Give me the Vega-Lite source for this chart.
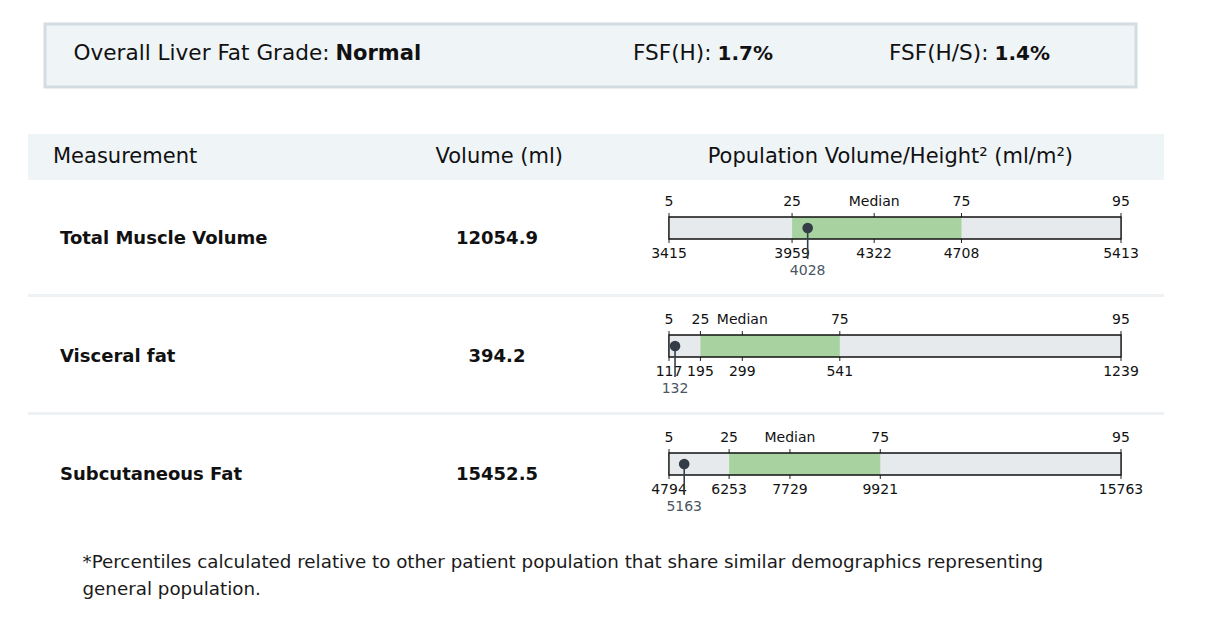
{
  "$schema": "https://vega.github.io/schema/vega-lite/v6.json",
  "background": "white",
  "padding": {"left": 26, "top": 22, "right": 0, "bottom": 0},
  "config": {"view": {"stroke": null}, "font": "DejaVu Sans"},
  "datasets": {
    "banner": [
      {"item": "grade", "label": "Overall Liver Fat Grade:", "value": "Normal"},
      {"item": "fsfh", "label": "FSF(H):", "value": "1.7%"},
      {"item": "fsfhs", "label": "FSF(H/S):", "value": "1.4%"}
    ],
    "header": [
      {"col": "Measurement"},
      {"col": "Volume (ml)"},
      {"col": "Population Volume/Height² (ml/m²)"}
    ],
    "body": [
      {"kind": "bar", "name": "Total Muscle Volume", "volume": 12054.9, "p5": 3415, "p25": 3959, "p50": 4322, "p75": 4708, "p95": 5413, "value": 4028},
      {"kind": "pct", "name": "Total Muscle Volume", "pct": "5", "val": 3415},
      {"kind": "pct", "name": "Total Muscle Volume", "pct": "25", "val": 3959},
      {"kind": "pct", "name": "Total Muscle Volume", "pct": "Median", "val": 4322},
      {"kind": "pct", "name": "Total Muscle Volume", "pct": "75", "val": 4708},
      {"kind": "pct", "name": "Total Muscle Volume", "pct": "95", "val": 5413},
      {"kind": "bar", "name": "Visceral fat", "volume": 394.2, "p5": 117, "p25": 195, "p50": 299, "p75": 541, "p95": 1239, "value": 132},
      {"kind": "pct", "name": "Visceral fat", "pct": "5", "val": 117},
      {"kind": "pct", "name": "Visceral fat", "pct": "25", "val": 195},
      {"kind": "pct", "name": "Visceral fat", "pct": "Median", "val": 299},
      {"kind": "pct", "name": "Visceral fat", "pct": "75", "val": 541},
      {"kind": "pct", "name": "Visceral fat", "pct": "95", "val": 1239},
      {"kind": "bar", "name": "Subcutaneous Fat", "volume": 15452.5, "p5": 4794, "p25": 6253, "p50": 7729, "p75": 9921, "p95": 15763, "value": 5163},
      {"kind": "pct", "name": "Subcutaneous Fat", "pct": "5", "val": 4794},
      {"kind": "pct", "name": "Subcutaneous Fat", "pct": "25", "val": 6253},
      {"kind": "pct", "name": "Subcutaneous Fat", "pct": "Median", "val": 7729},
      {"kind": "pct", "name": "Subcutaneous Fat", "pct": "75", "val": 9921},
      {"kind": "pct", "name": "Subcutaneous Fat", "pct": "95", "val": 15763}
    ]
  },
  "title": {
    "text": ["*Percentiles calculated relative to other patient population that share similar demographics representing", "general population."],
    "orient": "bottom",
    "anchor": "start",
    "dx": 56,
    "offset": 21,
    "baseline": "top",
    "fontSize": 18.3,
    "fontWeight": "normal",
    "lineHeight": 27,
    "color": "#1a1a1a",
    "font": "DejaVu Sans"
  },
  "spacing": 0,
  "vconcat": [
    {
      "spacing": 0,
      "hconcat": [
        {
          "width": 15,
          "height": 109.5,
          "data": {"values": [{}]},
          "mark": {"type": "text", "text": ""}
        },
        {
          "width": 1091,
          "height": 63,
          "view": {"fill": "#eff4f7", "stroke": "#d3dce0", "strokeWidth": 3},
          "data": {"name": "banner"},
          "resolve": {"scale": {"x": "independent"}},
          "layer": [
            {
              "transform": [{"filter": "datum.item === 'grade'"}],
              "encoding": {
                "x": {"field": "item", "type": "nominal", "axis": null, "scale": {"type": "point", "range": [287.5, 287.5], "padding": 0}}
              },
              "layer": [
                {"mark": {"type": "text", "align": "right", "baseline": "middle", "dx": -3, "dy": -2, "fontSize": 21.6, "color": "#111111"}, "encoding": {"text": {"field": "label"}}},
                {"mark": {"type": "text", "align": "left", "baseline": "middle", "dx": 3, "dy": -2, "fontSize": 21, "fontWeight": "bold", "color": "#111111"}, "encoding": {"text": {"field": "value"}}}
              ]
            },
            {
              "transform": [{"filter": "datum.item === 'fsfh'"}],
              "encoding": {
                "x": {"field": "item", "type": "nominal", "axis": null, "scale": {"type": "point", "range": [669.5, 669.5], "padding": 0}}
              },
              "layer": [
                {"mark": {"type": "text", "align": "right", "baseline": "middle", "dx": -3, "dy": -2, "fontSize": 21.6, "color": "#111111"}, "encoding": {"text": {"field": "label"}}},
                {"mark": {"type": "text", "align": "left", "baseline": "middle", "dx": 3, "dy": -2, "fontSize": 20, "fontWeight": "bold", "color": "#111111"}, "encoding": {"text": {"field": "value"}}}
              ]
            },
            {
              "transform": [{"filter": "datum.item === 'fsfhs'"}],
              "encoding": {
                "x": {"field": "item", "type": "nominal", "axis": null, "scale": {"type": "point", "range": [946.5, 946.5], "padding": 0}}
              },
              "layer": [
                {"mark": {"type": "text", "align": "right", "baseline": "middle", "dx": -3, "dy": -2, "fontSize": 21.6, "color": "#111111"}, "encoding": {"text": {"field": "label"}}},
                {"mark": {"type": "text", "align": "left", "baseline": "middle", "dx": 3, "dy": -2, "fontSize": 20, "fontWeight": "bold", "color": "#111111"}, "encoding": {"text": {"field": "value"}}}
              ]
            }
          ]
        }
      ]
    },
    {
      "width": 1136,
      "height": 46,
      "view": {"fill": "#eff4f7"},
      "data": {"name": "header"},
      "encoding": {
        "x": {"field": "col", "type": "nominal", "axis": null, "scale": {"type": "point", "domain": ["Measurement", "Volume (ml)", "Population Volume/Height² (ml/m²)"], "range": [25, 1045], "padding": 0}},
        "text": {"field": "col"}
      },
      "layer": [
        {
          "transform": [{"filter": "datum.col === 'Measurement'"}],
          "mark": {"type": "text", "align": "left", "baseline": "middle", "fontSize": 21, "color": "#111111"}
        },
        {
          "transform": [{"filter": "datum.col !== 'Measurement'"}],
          "mark": {"type": "text", "align": "right", "baseline": "middle", "fontSize": 21, "color": "#111111"}
        }
      ]
    },
    {
      "data": {"name": "body"},
      "facet": {
        "row": {"field": "name", "type": "nominal", "sort": ["Total Muscle Volume", "Visceral fat", "Subcutaneous Fat"], "header": {"labels": false, "title": null}, "title": null}
      },
      "spacing": {"row": 0},
      "resolve": {"scale": {"x": "independent", "y": "independent"}},
      "spec": {
        "width": 1136,
        "height": 117,
        "resolve": {"scale": {"x": "independent"}},
        "layer": [
          {
            "layer": [
              {
                "transform": [{"filter": "datum.kind === 'bar' && datum.name !== 'Subcutaneous Fat'"}],
                "mark": {"type": "rule", "color": "#eef2f5", "strokeWidth": 3},
                "encoding": {
                  "y": {"field": "name", "type": "nominal", "bandPosition": 3.57, "axis": null}
                }
              },
              {
                "transform": [{"filter": "datum.kind === 'pct'"}],
                "mark": {"type": "rule", "color": "#222222", "strokeWidth": 1},
                "encoding": {
                  "x": {"field": "val", "type": "quantitative", "axis": null, "scale": {"zero": false, "nice": false, "range": [641, 1093]}},
                  "y": {"field": "name", "type": "nominal", "bandPosition": -0.18, "axis": null, "scale": {"type": "band", "range": [37, 59], "paddingInner": 0, "paddingOuter": 0}},
                  "y2": {"field": "name", "bandPosition": 1.18}
                }
              },
              {
                "transform": [{"filter": "datum.kind === 'bar'"}],
                "mark": {"type": "rect", "color": "#e7eaed"},
                "encoding": {
                  "x": {"field": "p5", "type": "quantitative", "axis": null},
                  "x2": {"field": "p95"},
                  "y": {"field": "name", "type": "nominal", "axis": null}
                }
              },
              {
                "transform": [{"filter": "datum.kind === 'bar'"}],
                "mark": {"type": "rect", "color": "#a8d3a1"},
                "encoding": {
                  "x": {"field": "p25", "type": "quantitative", "axis": null},
                  "x2": {"field": "p75"},
                  "y": {"field": "name", "type": "nominal", "axis": null}
                }
              },
              {
                "transform": [{"filter": "datum.kind === 'bar'"}],
                "mark": {"type": "rect", "fill": null, "fillOpacity": 0, "stroke": "#111111", "strokeWidth": 1.3},
                "encoding": {
                  "x": {"field": "p5", "type": "quantitative", "axis": null},
                  "x2": {"field": "p95"},
                  "y": {"field": "name", "type": "nominal", "axis": null}
                }
              },
              {
                "transform": [{"filter": "datum.kind === 'pct'"}],
                "mark": {"type": "text", "align": "center", "baseline": "alphabetic", "dy": -22, "fontSize": 14, "color": "#111111"},
                "encoding": {
                  "x": {"field": "val", "type": "quantitative", "axis": null},
                  "y": {"field": "name", "type": "nominal", "axis": null},
                  "text": {"field": "pct"}
                }
              },
              {
                "transform": [{"filter": "datum.kind === 'pct'"}],
                "mark": {"type": "text", "align": "center", "baseline": "alphabetic", "dy": 29.5, "fontSize": 14, "color": "#111111"},
                "encoding": {
                  "x": {"field": "val", "type": "quantitative", "axis": null},
                  "y": {"field": "name", "type": "nominal", "axis": null},
                  "text": {"field": "val", "type": "quantitative", "format": "d"}
                }
              },
              {
                "transform": [{"filter": "datum.kind === 'bar'"}],
                "mark": {"type": "rule", "color": "#36404a", "strokeWidth": 1.6},
                "encoding": {
                  "x": {"field": "value", "type": "quantitative", "axis": null},
                  "y": {"field": "name", "type": "nominal", "bandPosition": 0.5, "axis": null},
                  "y2": {"field": "name", "bandPosition": 1.91}
                }
              },
              {
                "transform": [{"filter": "datum.kind === 'bar'"}],
                "mark": {"type": "circle", "size": 113, "opacity": 1, "color": "#343d47"},
                "encoding": {
                  "x": {"field": "value", "type": "quantitative", "axis": null},
                  "y": {"field": "name", "type": "nominal", "axis": null}
                }
              },
              {
                "transform": [{"filter": "datum.kind === 'bar'"}],
                "mark": {"type": "text", "align": "center", "baseline": "alphabetic", "dy": 47, "fontSize": 14, "color": "#4a5563"},
                "encoding": {
                  "x": {"field": "value", "type": "quantitative", "axis": null},
                  "y": {"field": "name", "type": "nominal", "axis": null},
                  "text": {"field": "value", "type": "quantitative", "format": "d"}
                }
              }
            ]
          },
          {
            "transform": [{"filter": "datum.kind === 'bar'"}],
            "layer": [
              {
                "mark": {"type": "text", "align": "left", "baseline": "middle", "fontSize": 18, "fontWeight": "bold", "color": "#111111"},
                "encoding": {
                  "x": {"datum": "Measurement", "type": "nominal", "axis": null, "scale": {"type": "point", "domain": ["Measurement", "Volume (ml)"], "range": [32, 469], "padding": 0}},
                  "text": {"field": "name"}
                }
              },
              {
                "mark": {"type": "text", "align": "center", "baseline": "middle", "fontSize": 18, "fontWeight": "bold", "color": "#111111"},
                "encoding": {
                  "x": {"datum": "Volume (ml)", "type": "nominal", "axis": null},
                  "text": {"field": "volume", "type": "quantitative", "format": ".1f"}
                }
              }
            ]
          }
        ]
      }
    }
  ]
}
